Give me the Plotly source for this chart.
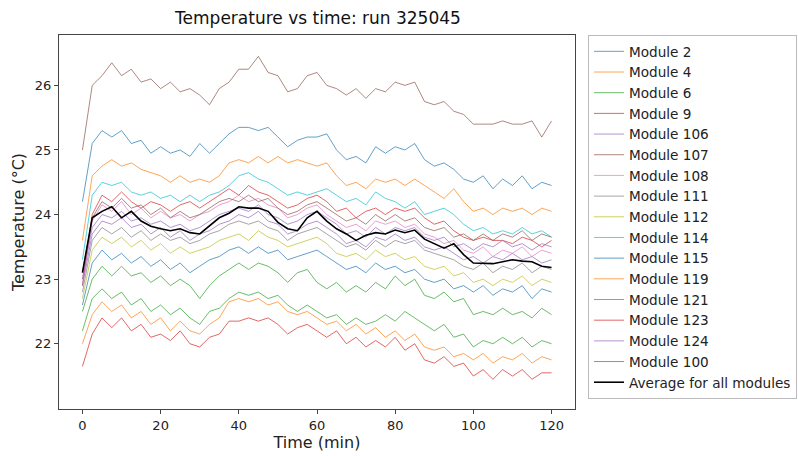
import plotly.graph_objects as go

time_min = [0, 2.5, 5, 7.5, 10, 12.5, 15, 17.5, 20, 22.5, 25, 27.5, 30, 32.5, 35, 37.5,
            40, 42.5, 45, 47.5, 50, 52.5, 55, 57.5, 60, 62.5, 65, 67.5, 70, 72.5, 75, 77.5,
            80, 82.5, 85, 87.5, 90, 92.5, 95, 97.5, 100, 102.5, 105, 107.5, 110, 112.5, 115, 117.5, 120]

module_names = ["Module 2", "Module 4", "Module 6", "Module 9", "Module 106", "Module 107",
                "Module 108", "Module 111", "Module 112", "Module 114", "Module 115",
                "Module 119", "Module 121", "Module 123", "Module 124", "Module 100"]

m2 = [24.2, 25.1, 25.3, 25.2, 25.3, 25.1, 25.15, 24.95, 25.05, 24.95, 25.0, 24.9, 25.1, 24.95, 25.1, 25.25,
      25.35, 25.35, 25.3, 25.35, 25.2, 25.05, 25.15, 25.2, 25.2, 25.25, 25.0, 24.85, 24.9, 24.8, 25.05, 24.95,
      25.05, 25.0, 25.1, 24.85, 24.75, 24.8, 24.7, 24.55, 24.5, 24.6, 24.4, 24.55, 24.45, 24.6, 24.4, 24.5, 24.45]
m4 = [23.6, 24.6, 24.75, 24.85, 24.75, 24.8, 24.7, 24.65, 24.6, 24.5, 24.6, 24.5, 24.55, 24.5, 24.6, 24.8,
      24.85, 24.8, 24.9, 24.8, 24.9, 24.8, 24.85, 24.8, 24.75, 24.8, 24.6, 24.45, 24.5, 24.4, 24.55, 24.5,
      24.55, 24.45, 24.55, 24.45, 24.35, 24.25, 24.4, 24.2, 24.05, 24.1, 24.0, 24.1, 24.05, 24.1, 24.0, 24.1, 24.05]
m6 = [22.5, 23.0, 23.2, 23.05, 23.2, 23.05, 23.1, 22.95, 23.05, 22.9, 23.0, 22.9, 22.7, 22.9, 23.05, 23.15,
      23.25, 23.15, 23.25, 23.2, 23.1, 22.95, 23.1, 23.15, 22.95, 22.85, 22.95, 22.8, 22.9, 22.8, 22.95, 22.85,
      23.05, 22.9, 23.0, 22.75, 22.7, 22.8, 22.65, 22.7, 22.45, 22.5, 22.45, 22.55, 22.45, 22.5, 22.4, 22.55, 22.45]
m9 = [22.9, 24.0, 24.3, 24.2, 24.35, 24.2, 24.1, 24.2, 24.15, 24.05, 24.15, 24.2, 24.1, 24.2, 24.3, 24.4,
      24.3, 24.45, 24.35, 24.3, 24.2, 24.1, 24.15, 24.25, 24.3, 24.2, 24.05, 24.1, 23.95, 24.05, 24.1, 24.0,
      24.1, 24.05, 24.1, 23.95, 23.85, 23.9, 23.75, 23.65, 23.6, 23.65, 23.6, 23.6, 23.55, 23.65, 23.6, 23.5, 23.6]
m106 = [22.9, 23.7, 23.9, 23.85, 23.95, 23.8, 23.85, 23.7, 23.8, 23.65, 23.75, 23.6, 23.7, 23.75, 23.85, 23.9,
        24.0, 23.95, 24.05, 23.9, 23.85, 23.7, 23.75, 23.85, 23.9, 23.8, 23.7, 23.55, 23.6, 23.5, 23.65, 23.6,
        23.7, 23.6, 23.65, 23.5, 23.45, 23.5, 23.4, 23.3, 23.35, 23.25, 23.35, 23.3, 23.4, 23.3, 23.35, 23.25, 23.3]
m107 = [25.0, 26.0, 26.15, 26.35, 26.15, 26.25, 26.05, 26.1, 25.95, 26.05, 25.9, 25.95, 25.85, 25.7, 25.95, 26.05,
        26.25, 26.25, 26.45, 26.2, 26.15, 25.9, 25.95, 26.15, 26.2, 26.0, 25.95, 25.85, 25.95, 25.8, 25.95, 25.9,
        26.05, 26.0, 26.05, 25.75, 25.7, 25.75, 25.6, 25.55, 25.4, 25.4, 25.4, 25.45, 25.4, 25.4, 25.45, 25.2, 25.45]
m108 = [23.0, 23.9, 24.15, 24.05, 24.2, 24.0, 24.1, 23.95, 24.05, 23.95, 24.0, 23.9, 24.0, 24.05, 24.15, 24.2,
        24.3, 24.2, 24.25, 24.15, 24.1, 23.95, 24.0, 24.1, 24.15, 24.0, 23.9, 23.8, 23.85, 23.75, 23.9, 23.85,
        23.9, 23.8, 23.85, 23.7, 23.65, 23.55, 23.6, 23.45, 23.4, 23.5, 23.35, 23.45, 23.4, 23.5, 23.35, 23.45, 23.4]
m111 = [22.8, 23.6, 23.8, 23.7, 23.8, 23.65, 23.75, 23.6, 23.7, 23.6, 23.65, 23.55, 23.6, 23.7, 23.75, 23.85,
        23.9, 23.85, 23.9, 23.8, 23.75, 23.6, 23.7, 23.75, 23.8, 23.7, 23.6, 23.5, 23.55, 23.45, 23.6, 23.5,
        23.6, 23.55, 23.6, 23.45, 23.4, 23.35, 23.3, 23.2, 23.15, 23.25, 23.1, 23.2, 23.15, 23.25, 23.1, 23.2, 23.15]
m112 = [22.7, 23.45, 23.65, 23.55, 23.65, 23.5, 23.6, 23.45, 23.55, 23.4, 23.5, 23.4, 23.45, 23.5, 23.6, 23.65,
        23.7, 23.6, 23.75, 23.65, 23.6, 23.5, 23.55, 23.6, 23.65, 23.55, 23.4, 23.35, 23.4, 23.3, 23.45, 23.35,
        23.4, 23.3, 23.35, 23.2, 23.15, 23.2, 23.05, 23.1, 22.95, 23.0, 22.9, 23.0, 22.95, 23.05, 22.9, 23.0, 22.95]
m114 = [23.3, 24.3, 24.5, 24.45, 24.5, 24.35, 24.3, 24.35, 24.25, 24.3, 24.2, 24.3, 24.2, 24.3, 24.35, 24.45,
        24.6, 24.65, 24.55, 24.5, 24.4, 24.3, 24.35, 24.3, 24.35, 24.4, 24.3, 24.2, 24.25, 24.15, 24.35, 24.25,
        24.2, 24.1, 24.2, 24.0, 24.05, 24.1, 24.0, 23.85, 23.75, 23.8, 23.7, 23.75, 23.7, 23.8, 23.7, 23.75, 23.65]
m115 = [22.6, 23.25, 23.45, 23.3, 23.4, 23.25, 23.35, 23.2, 23.3, 23.15, 23.25, 23.1, 23.2, 23.3, 23.35, 23.45,
        23.5, 23.4, 23.5, 23.4, 23.45, 23.3, 23.35, 23.4, 23.45, 23.35, 23.25, 23.15, 23.2, 23.1, 23.25, 23.15,
        23.2, 23.1, 23.15, 23.0, 22.95, 23.0, 22.85, 22.9, 22.8, 22.9, 22.75, 22.85, 22.8, 22.9, 22.7, 22.85, 22.8]
m119 = [22.0, 22.45, 22.65, 22.5, 22.6, 22.4, 22.5, 22.3, 22.4, 22.2, 22.35, 22.2, 22.15, 22.3, 22.4, 22.65,
        22.7, 22.65, 22.7, 22.6, 22.65, 22.5, 22.45, 22.5, 22.4, 22.3, 22.35, 22.2, 22.3, 22.15, 22.25, 22.1,
        22.2, 22.05, 22.15, 21.95, 21.9, 21.95, 21.8, 21.85, 21.75, 21.85, 21.7, 21.8, 21.75, 21.85, 21.7, 21.8, 21.75]
m121 = [22.2, 22.7, 22.85, 22.7, 22.8, 22.6, 22.7, 22.5, 22.6, 22.45, 22.55, 22.4, 22.3, 22.5, 22.55, 22.7,
        22.8, 22.75, 22.8, 22.7, 22.75, 22.6, 22.5, 22.6, 22.5, 22.4, 22.45, 22.3, 22.4, 22.3, 22.35, 22.45,
        22.35, 22.5, 22.4, 22.3, 22.2, 22.3, 22.1, 22.15, 21.95, 22.05, 22.0, 22.1, 22.0, 22.1, 21.95, 22.05, 22.0]
m123 = [21.65, 22.15, 22.4, 22.25, 22.4, 22.2, 22.3, 22.1, 22.15, 22.05, 22.2, 22.0, 21.95, 22.1, 22.15, 22.35,
        22.35, 22.4, 22.35, 22.4, 22.3, 22.15, 22.25, 22.3, 22.2, 22.1, 22.2, 22.0, 22.1, 21.95, 22.05, 21.95,
        22.1, 21.9, 22.0, 21.75, 21.7, 21.8, 21.65, 21.7, 21.5, 21.6, 21.45, 21.6, 21.5, 21.6, 21.45, 21.55, 21.55]
m124 = [23.0, 23.8, 24.0, 23.95, 24.05, 23.9, 23.95, 23.85, 23.9, 23.8, 23.85, 23.75, 23.8, 23.9, 24.0, 24.05,
        24.1, 24.05, 24.15, 24.0, 23.95, 23.85, 23.9, 24.0, 24.05, 23.95, 23.85, 23.7, 23.75, 23.65, 23.8, 23.7,
        23.8, 23.75, 23.8, 23.65, 23.6, 23.65, 23.5, 23.55, 23.45, 23.55, 23.5, 23.6, 23.5, 23.55, 23.45, 23.55, 23.5]
m100 = [23.1, 23.95, 24.2, 24.1, 24.25, 24.1, 24.15, 24.0, 24.1, 23.95, 24.05, 23.95, 24.0, 24.1, 24.2, 24.25,
        24.2, 24.3, 24.2, 24.25, 24.1, 24.0, 24.05, 24.15, 24.2, 24.1, 24.0, 23.9, 23.95, 23.85, 24.0, 23.9,
        24.0, 23.9, 23.95, 23.8, 23.75, 23.8, 23.65, 23.7, 23.6, 23.7, 23.6, 23.7, 23.65, 23.75, 23.6, 23.7, 23.65]
average = [23.1, 23.95, 24.05, 24.12, 23.95, 24.05, 23.9, 23.82, 23.78, 23.75, 23.78, 23.72, 23.7, 23.82, 23.95, 24.02,
           24.12, 24.1, 24.1, 24.05, 23.88, 23.78, 23.75, 23.95, 24.05, 23.9, 23.78, 23.7, 23.6, 23.68, 23.72, 23.7,
           23.76, 23.72, 23.76, 23.62, 23.55, 23.48, 23.55, 23.38, 23.25, 23.25, 23.24, 23.27, 23.3, 23.28, 23.27, 23.2, 23.18]

module_values = [m2, m4, m6, m9, m106, m107, m108, m111, m112, m114, m115, m119, m121, m123, m124, m100]

palette = ["rgba(31,119,180,0.7)", "rgba(255,127,14,0.7)", "rgba(44,160,44,0.7)",
           "rgba(214,39,40,0.7)", "rgba(148,103,189,0.7)", "rgba(140,86,75,0.7)",
           "rgba(227,119,194,0.7)", "rgba(127,127,127,0.7)", "rgba(188,189,34,0.7)",
           "rgba(23,190,207,0.7)"]

fig = go.Figure()
for i, (name, vals) in enumerate(zip(module_names, module_values)):
    fig.add_trace(go.Scatter(x=time_min, y=vals, mode="lines", name=name,
                             line=dict(color=palette[i % 10], width=1)))
fig.add_trace(go.Scatter(x=time_min, y=average, mode="lines", name="Average for all modules",
                         line=dict(color="black", width=1.6)))

font_family = "DejaVu Sans"
fig.update_layout(
    width=798, height=456,
    margin=dict(l=59, r=221, t=35, b=33),
    paper_bgcolor="white", plot_bgcolor="white",
    font=dict(family=font_family, size=13, color="#222"),
    title=dict(text="Temperature vs time: run 325045", x=(59 + 577) / 2 / 798, xanchor="center",
               y=1 - 18 / 456, yanchor="middle", font=dict(size=17, color="#111")),
    showlegend=True,
    legend=dict(xref="container", x=588 / 798, yref="paper", y=1.0,
                xanchor="left", yanchor="top",
                bordercolor="#bbbbbb", borderwidth=1, bgcolor="white",
                font=dict(size=13.6, color="#222"), tracegroupgap=0, itemwidth=30),
    xaxis=dict(range=[-6, 126], tickvals=[0, 20, 40, 60, 80, 100, 120],
               title=dict(text="Time (min)", font=dict(size=16), standoff=0),
               showgrid=False, zeroline=False, showline=True, linecolor="#444", linewidth=1,
               mirror=True, ticks="outside", ticklen=4, tickcolor="#444"),
    yaxis=dict(range=[20.99, 26.78], tickvals=[22, 23, 24, 25, 26],
               title=dict(text="Temperature (°C)", font=dict(size=16), standoff=6),
               showgrid=False, zeroline=False, showline=True, linecolor="#444", linewidth=1,
               mirror=True, ticks="outside", ticklen=4, tickcolor="#444"),
)

fig.write_html("out.html")
